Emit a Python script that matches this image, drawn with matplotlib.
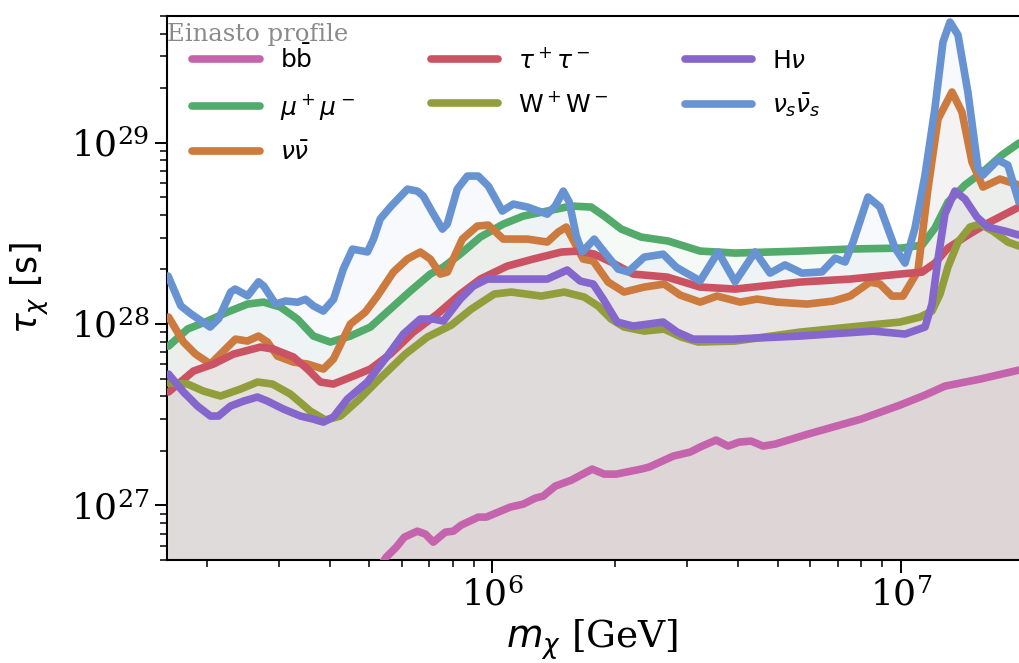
import matplotlib
matplotlib.use('Agg')
import matplotlib.pyplot as plt

# ---------------- data ----------------
mass_bb = [5.089e5, 5.505e5, 5.824e5, 6.093e5, 6.555e5, 6.858e5, 7.173e5, 7.675e5, 8.027e5, 8.398e5,
           9.243e5, 9.668e5, 1.107e6, 1.191e6, 1.274e6, 1.332e6, 1.426e6, 1.561e6, 1.756e6, 1.879e6,
           2.010e6, 2.313e6, 2.420e6, 2.771e6, 3.049e6, 3.262e6, 3.530e6, 3.776e6, 4.017e6, 4.298e6,
           4.598e6, 4.919e6, 5.922e6, 7.987e6, 9.945e6, 1.145e7, 1.281e7, 1.561e7, 1.944e7]
tau_bb = [4.02e26, 5.19e26, 5.89e26, 6.68e26, 7.21e26, 6.95e26, 6.27e26, 7.12e26, 7.21e26, 7.79e26,
          8.62e26, 8.62e26, 9.79e26, 1.017e27, 1.097e27, 1.125e27, 1.278e27, 1.378e27, 1.586e27, 1.488e27,
          1.488e27, 1.586e27, 1.627e27, 1.870e27, 1.968e27, 2.124e27, 2.292e27, 2.124e27, 2.234e27, 2.263e27,
          2.124e27, 2.178e27, 2.473e27, 2.992e27, 3.574e27, 4.059e27, 4.550e27, 4.972e27, 5.576e27]

mass_mumu = [1.614e5, 1.797e5, 2.010e5, 2.250e5, 2.518e5, 2.755e5, 3.032e5, 3.336e5, 3.650e5, 4.017e5,
             4.495e5, 5.032e5, 5.630e5, 6.302e5, 7.053e5, 7.589e5, 8.353e5, 9.348e5, 1.064e6, 1.191e6,
             1.363e6, 1.561e6, 1.746e6, 1.879e6, 2.068e6, 2.313e6, 2.694e6, 3.226e6, 3.928e6, 5.663e6,
             7.505e6, 1.006e7, 1.126e7, 1.211e7, 1.303e7, 1.434e7, 1.605e7, 1.766e7, 1.944e7]
tau_mumu = [7.56e27, 9.39e27, 1.039e28, 1.165e28, 1.289e28, 1.322e28, 1.241e28, 1.066e28, 8.59e27, 7.96e27,
            8.59e27, 9.63e27, 1.210e28, 1.521e28, 1.887e28, 2.063e28, 2.433e28, 3.019e28, 3.561e28, 3.942e28,
            4.201e28, 4.476e28, 4.419e28, 3.942e28, 3.342e28, 3.019e28, 2.870e28, 2.527e28, 2.464e28, 2.527e28,
            2.593e28, 2.626e28, 2.727e28, 3.384e28, 4.709e28, 5.844e28, 7.070e28, 8.554e28, 9.961e28]

mass_nunu = [1.614e5, 1.756e5, 1.879e5, 2.044e5, 2.187e5, 2.353e5, 2.518e5, 2.679e5, 2.818e5, 2.981e5,
             3.262e5, 3.530e5, 3.862e5, 4.085e5, 4.495e5, 4.892e5, 5.234e5, 5.726e5, 6.197e5, 6.668e5,
             7.053e5, 7.462e5, 7.762e5, 8.447e5, 9.190e5, 9.777e5, 1.064e6, 1.218e6, 1.363e6, 1.450e6,
             1.517e6, 1.587e6, 1.669e6, 1.766e6, 1.921e6, 2.102e6, 2.353e6, 2.634e6, 2.883e6, 3.226e6,
             3.548e6, 4.040e6, 4.445e6, 4.975e6, 5.890e6, 6.822e6, 7.505e6, 8.400e6, 8.886e6, 9.506e6,
             1.011e7, 1.100e7, 1.164e7, 1.232e7, 1.333e7, 1.410e7, 1.492e7, 1.587e7, 1.746e7, 1.944e7]
tau_nunu = [1.093e28, 7.96e27, 6.83e27, 6.02e27, 7.01e27, 8.26e27, 8.06e27, 8.59e27, 7.96e27, 6.66e27,
            6.17e27, 6.02e27, 5.65e27, 6.41e27, 1.00e28, 1.165e28, 1.427e28, 1.935e28, 2.283e28, 2.496e28,
            2.283e28, 1.887e28, 1.935e28, 2.943e28, 3.471e28, 3.516e28, 2.943e28, 2.943e28, 2.834e28, 3.218e28,
            3.428e28, 2.834e28, 2.283e28, 2.226e28, 1.705e28, 1.502e28, 1.600e28, 1.662e28, 1.445e28, 1.322e28,
            1.427e28, 1.322e28, 1.374e28, 1.322e28, 1.289e28, 1.339e28, 1.427e28, 1.705e28, 1.662e28, 1.427e28,
            1.427e28, 1.960e28, 5.553e28, 1.351e29, 1.904e29, 1.477e29, 7.825e28, 5.698e28, 6.306e28, 5.844e28]

mass_tautau = [1.614e5, 1.858e5, 2.079e5, 2.326e5, 2.709e5, 2.914e5, 3.262e5, 3.530e5, 3.797e5, 4.085e5,
               4.572e5, 5.032e5, 5.630e5, 6.409e5, 7.336e5, 8.353e5, 9.348e5, 1.088e6, 1.259e6, 1.475e6,
               1.623e6, 1.776e6, 1.954e6, 2.212e6, 2.679e6, 3.226e6, 3.928e6, 5.663e6, 7.505e6, 9.945e6,
               1.126e7, 1.211e7, 1.303e7, 1.458e7, 1.632e7, 1.944e7]
tau_tautau = [4.22e27, 5.51e27, 6.02e27, 6.83e27, 7.47e27, 7.28e27, 6.58e27, 5.65e27, 4.79e27, 4.67e27,
              5.17e27, 5.65e27, 6.83e27, 9.03e27, 1.135e28, 1.464e28, 1.771e28, 2.089e28, 2.283e28, 2.496e28,
              2.527e28, 2.433e28, 2.198e28, 1.887e28, 1.816e28, 1.600e28, 1.560e28, 1.705e28, 1.771e28, 1.887e28,
              1.935e28, 2.170e28, 2.626e28, 3.097e28, 3.607e28, 4.419e28]

mass_ww = [1.614e5, 1.797e5, 1.965e5, 2.163e5, 2.420e5, 2.664e5, 2.898e5, 3.207e5, 3.589e5, 3.906e5,
           4.250e5, 4.703e5, 5.323e5, 6.128e5, 6.936e5, 7.939e5, 8.886e5, 1.011e6, 1.113e6, 1.318e6,
           1.500e6, 1.679e6, 1.816e6, 1.954e6, 2.102e6, 2.353e6, 2.634e6, 2.899e6, 3.190e6, 3.928e6,
           5.663e6, 7.505e6, 9.945e6, 1.113e7, 1.191e7, 1.246e7, 1.303e7, 1.379e7, 1.475e7, 1.561e7,
           1.679e7, 1.826e7, 1.944e7]
tau_ww = [4.73e27, 4.67e27, 4.27e27, 4.01e27, 4.38e27, 4.79e27, 4.67e27, 4.11e27, 3.31e27, 2.96e27,
          3.11e27, 3.81e27, 5.04e27, 6.83e27, 8.48e27, 9.87e27, 1.210e28, 1.464e28, 1.502e28, 1.427e28,
          1.502e28, 1.409e28, 1.257e28, 1.066e28, 9.63e27, 9.15e27, 9.39e27, 8.48e27, 7.96e27, 8.06e27,
          9.03e27, 9.63e27, 1.026e28, 1.093e28, 1.180e28, 1.464e28, 2.063e28, 2.834e28, 3.428e28, 3.561e28,
          3.258e28, 2.834e28, 2.693e28]

mass_hnu = [1.614e5, 1.756e5, 1.900e5, 2.044e5, 2.138e5, 2.288e5, 2.462e5, 2.664e5, 2.818e5, 3.083e5,
            3.393e5, 3.650e5, 3.862e5, 4.085e5, 4.421e5, 4.948e5, 5.536e5, 6.059e5, 6.668e5, 7.173e5,
            7.589e5, 8.353e5, 8.986e5, 9.723e5, 1.107e6, 1.363e6, 1.525e6, 1.641e6, 1.766e6, 1.868e6,
            2.021e6, 2.212e6, 2.619e6, 2.834e6, 3.100e6, 3.884e6, 5.663e6, 8.542e6, 1.023e7, 1.145e7,
            1.191e7, 1.232e7, 1.281e7, 1.355e7, 1.434e7, 1.534e7, 1.632e7, 1.796e7, 1.944e7]
tau_hnu = [5.30e27, 4.22e27, 3.53e27, 3.11e27, 3.11e27, 3.53e27, 3.76e27, 3.96e27, 3.76e27, 3.40e27,
           3.11e27, 2.99e27, 2.88e27, 3.07e27, 3.86e27, 4.79e27, 6.66e27, 8.81e27, 1.066e28, 1.066e28,
           1.039e28, 1.374e28, 1.620e28, 1.771e28, 1.771e28, 1.771e28, 1.986e28, 1.727e28, 1.662e28, 1.374e28,
           1.026e28, 9.75e27, 1.026e28, 9.03e27, 8.26e27, 8.26e27, 8.59e27, 9.15e27, 8.81e27, 9.63e27,
           1.289e28, 2.283e28, 4.044e28, 5.414e28, 4.892e28, 3.893e28, 3.428e28, 3.258e28, 3.097e28]

mass_nusnus = [1.61e5, 1.73e5, 1.83e5, 2.04e5, 2.14e5, 2.29e5, 2.35e5, 2.52e5, 2.68e5, 2.76e5,
               2.95e5, 3.12e5, 3.34e5, 3.49e5, 3.65e5, 3.86e5, 4.09e5, 4.32e5, 4.55e5, 4.95e5,
               5.12e5, 5.32e5, 5.63e5, 6.20e5, 6.56e5, 6.78e5, 7.13e5, 7.55e5, 7.76e5, 8.21e5,
               8.69e5, 9.24e5, 9.78e5, 1.058e6, 1.126e6, 1.218e6, 1.363e6, 1.426e6, 1.492e6, 1.543e6,
               1.605e6, 1.660e6, 1.776e6, 1.879e6, 2.033e6, 2.150e6, 2.353e6, 2.619e6, 2.818e6, 3.049e6,
               3.226e6, 3.570e6, 3.928e6, 4.396e6, 4.783e6, 5.204e6, 5.726e6, 6.408e6, 6.899e6, 7.299e6,
               7.635e6, 8.305e6, 8.886e6, 9.668e6, 1.023e7, 1.082e7, 1.145e7, 1.211e7, 1.267e7, 1.318e7,
               1.379e7, 1.458e7, 1.543e7, 1.587e7, 1.727e7, 1.826e7, 1.944e7]
tau_nusnus = [1.84e28, 1.26e28, 1.14e28, 9.63e27, 1.07e28, 1.50e28, 1.56e28, 1.43e28, 1.71e28, 1.62e28,
              1.29e28, 1.34e28, 1.32e28, 1.37e28, 1.26e28, 1.18e28, 1.37e28, 2.01e28, 2.59e28, 2.50e28,
              2.94e28, 3.80e28, 4.42e28, 5.55e28, 5.41e28, 5.08e28, 4.15e28, 3.34e28, 3.56e28, 5.55e28,
              6.55e28, 6.55e28, 5.77e28, 4.20e28, 4.59e28, 4.42e28, 4.04e28, 4.48e28, 5.41e28, 4.71e28,
              3.06e28, 2.50e28, 2.94e28, 2.50e28, 2.01e28, 1.94e28, 2.34e28, 2.43e28, 2.06e28, 1.86e28,
              1.73e28, 2.50e28, 1.71e28, 2.50e28, 1.91e28, 2.12e28, 1.91e28, 1.94e28, 2.31e28, 2.20e28,
              2.83e28, 5.02e28, 4.42e28, 2.63e28, 2.17e28, 3.38e28, 6.63e28, 1.55e29, 3.59e29, 4.63e29,
              3.93e29, 1.90e29, 7.26e28, 6.63e28, 8.03e28, 7.53e28, 4.71e28]

labels = [r'b$\bar{\rm b}$', r'$\mu^+\mu^-$', r'$\nu\bar{\nu}$', r'$\tau^+\tau^-$',
          r'W$^+$W$^-$', r'H$\nu$', r'$\nu_s\bar{\nu}_s$']
colors = ['#c564ac', '#52ab6b', '#cc7a3e', '#cb5263', '#929e3c', '#8466cc', '#6893d2']
series = [(mass_bb, tau_bb), (mass_mumu, tau_mumu), (mass_nunu, tau_nunu), (mass_tautau, tau_tautau),
          (mass_ww, tau_ww), (mass_hnu, tau_hnu), (mass_nusnus, tau_nusnus)]

# ---------------- figure ----------------
plt.rcParams['font.family'] = ['DejaVu Serif']
plt.rcParams['axes.linewidth'] = 1.5

fig = plt.figure(figsize=(10.19, 6.63), dpi=100)
ax = fig.add_axes([167 / 1019, 103 / 663, 857 / 1019, 544 / 663])

ylow, yhigh = 5e26, 5e29
for (m, t), lab, c in zip(series, labels, colors):
    ax.fill_between(m, t, 1e20, color=c, alpha=0.05, linewidth=0, zorder=1)
    ax.plot(m, t, color=c, lw=5.5, label=lab, zorder=3,
            solid_capstyle='round', solid_joinstyle='round')

ax.set_xscale('log')
ax.set_yscale('log')
ax.set_xlim(1.6e5, 2.0e7)
ax.set_ylim(ylow, yhigh)

ax.spines['right'].set_visible(False)
ax.tick_params(which='major', length=9, width=1.4, labelsize=26, direction='out')
ax.tick_params(which='minor', length=5, width=1.1, direction='out')

ax.set_xlabel(r'$m_\chi$ [GeV]', fontsize=27, labelpad=4, x=(592 - 167) / 857)
ax.set_ylabel(r'$\tau_\chi$ [s]', fontsize=25, family='DejaVu Sans', labelpad=14)

ax.text(0.0, 0.988, 'Einasto profile', transform=ax.transAxes, ha='left', va='top',
        fontsize=17.5, color='#8a8a8a', zorder=5)

leg = ax.legend(loc='upper left', ncol=3, frameon=False, handlelength=2.7,
                handletextpad=0.8, columnspacing=3.05, labelspacing=0.75,
                prop={'family': 'DejaVu Sans', 'size': 18},
                bbox_to_anchor=(0.003, 0.988))

fig.savefig('out.png', dpi=100)
